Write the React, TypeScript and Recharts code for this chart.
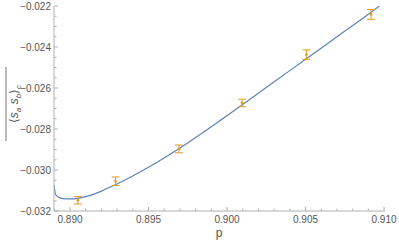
import { ComposedChart, Line, Scatter, ErrorBar, XAxis, YAxis } from "recharts";

// fitted curve
const curveP = [
  0.88898, 0.88902, 0.8891, 0.8893, 0.8896, 0.89, 0.8905, 0.891, 0.892, 0.893,
  0.895, 0.897, 0.899, 0.901, 0.903, 0.905, 0.907, 0.909, 0.9097,
];
const curveV = [
  -0.03073, -0.031, -0.03122, -0.03134, -0.0314, -0.03141, -0.03138, -0.0313,
  -0.03103, -0.03068, -0.02987, -0.02893, -0.02789, -0.0268, -0.0257, -0.0246,
  -0.0235, -0.0224, -0.022,
];

// measured points with error bars
const pointP = [0.8905, 0.8929, 0.89694, 0.90096, 0.90505, 0.90917];
const pointV = [-0.03148, -0.03055, -0.02897, -0.02673, -0.02437, -0.02241];
const pointErr = [0.00018, 0.00021, 0.00019, 0.00018, 0.00023, 0.00024];

const xTicks = [
  0.889, 0.89, 0.891, 0.892, 0.893, 0.894, 0.895, 0.896, 0.897, 0.898, 0.899,
  0.9, 0.901, 0.902, 0.903, 0.904, 0.905, 0.906, 0.907, 0.908, 0.909, 0.91,
];
const xMajor = [0.89, 0.895, 0.9, 0.905, 0.91];
const yTicks = [
  -0.032, -0.0315, -0.031, -0.0305, -0.03, -0.0295, -0.029, -0.0285, -0.028,
  -0.0275, -0.027, -0.0265, -0.026, -0.0255, -0.025, -0.0245, -0.024, -0.0235,
  -0.023, -0.0225, -0.022,
];
const yMajor = [-0.032, -0.03, -0.028, -0.026, -0.024, -0.022];

const curve = curveP.map((p, i) => ({ p, v: curveV[i] }));
const points = pointP.map((p, i) => ({ p, v: pointV[i], err: pointErr[i] }));

const FRAME = "#b0b0b0";
const TEXT = "#555";
const FONT = "Liberation Sans, Arial, sans-serif";
const BLUE = "#5e81b5";
const ORANGE = "#e19c24";

const isMajor = (v: number, list: number[]) => list.some((m) => Math.abs(m - v) < 1e-9);
const fmt = (v: number) => v.toFixed(3).replace("-", "\u2212");

const BottomTick = (props: any) => {
  const { x, y, payload } = props;
  const major = isMajor(payload.value, xMajor);
  return (
    <g>
      <line x1={x} x2={x} y1={y} y2={y - (major ? 4 : 2.5)} stroke={FRAME} />
      {major && (
        <text x={x} y={y + 12} textAnchor="middle" fontSize={10} fill={TEXT} fontFamily={FONT}>
          {payload.value.toFixed(3)}
        </text>
      )}
    </g>
  );
};

const TopTick = (props: any) => {
  const { x, y, payload } = props;
  const major = isMajor(payload.value, xMajor);
  return <line x1={x} x2={x} y1={y} y2={y + (major ? 4 : 2.5)} stroke={FRAME} />;
};

const LeftTick = (props: any) => {
  const { x, y, payload } = props;
  const major = isMajor(payload.value, yMajor);
  return (
    <g>
      <line x1={x} x2={x + (major ? 4 : 2.5)} y1={y} y2={y} stroke={FRAME} />
      {major && (
        <text x={x - 3} y={y + 3.5} textAnchor="end" fontSize={10} fill={TEXT} fontFamily={FONT}>
          {fmt(payload.value)}
        </text>
      )}
    </g>
  );
};

const RightTick = (props: any) => {
  const { x, y, payload } = props;
  const major = isMajor(payload.value, yMajor);
  return <line x1={x} x2={x - (major ? 4 : 2.5)} y1={y} y2={y} stroke={FRAME} />;
};

const XLabel = () => (
  <text x={219} y={237} textAnchor="middle" fontSize={12} fill={TEXT} fontFamily={FONT}>
    p
  </text>
);

const YLabel = () => (
  <g transform="translate(18,104) rotate(-90)">
    <line x1={-37} x2={37} y1={-12} y2={-12} stroke={TEXT} strokeWidth={0.8} />
    <text x={0} y={0} textAnchor="middle" fontSize={12} fill={TEXT} fontFamily={FONT}>
      {"\u27e8"}
      <tspan fontStyle="italic">s</tspan>
      <tspan fontSize={8} dy={3} fontStyle="italic">a</tspan>
      <tspan dy={-3}> </tspan>
      <tspan fontStyle="italic">s</tspan>
      <tspan fontSize={8} dy={3} fontStyle="italic">b</tspan>
      <tspan dy={-3}>{"\u27e9"}</tspan>
      <tspan fontSize={8} dy={3} fontStyle="italic">c</tspan>
    </text>
  </g>
);

const Dot = (props: any) => <circle cx={props.cx} cy={props.cy} r={1.4} fill={ORANGE} />;

export default function App() {
  return (
    <div style={{ position: "absolute", left: 0, top: 0 }}>
      <ComposedChart width={399} height={243} margin={{ top: 6, right: 14, bottom: 0, left: 0 }}>
        <XAxis
          dataKey="p"
          type="number"
          domain={[0.88898, 0.91006]}
          allowDataOverflow
          ticks={xTicks}
          interval={0}
          tick={<BottomTick />}
          tickSize={0}
          tickMargin={0}
          tickLine={false}
          axisLine={{ stroke: FRAME }}
          height={32}
          label={<XLabel />}
        />
        <XAxis
          xAxisId="t"
          orientation="top"
          type="number"
          domain={[0.88898, 0.91006]}
          allowDataOverflow
          ticks={xTicks}
          interval={0}
          tick={<TopTick />}
          tickSize={0}
          tickMargin={0}
          tickLine={false}
          axisLine={{ stroke: FRAME }}
          height={0}
        />
        <YAxis
          type="number"
          domain={[-0.032, -0.022]}
          allowDataOverflow
          ticks={yTicks}
          interval={0}
          tick={<LeftTick />}
          tickSize={0}
          tickMargin={0}
          tickLine={false}
          axisLine={{ stroke: FRAME }}
          width={54}
          label={<YLabel />}
        />
        <YAxis
          yAxisId="r"
          orientation="right"
          type="number"
          domain={[-0.032, -0.022]}
          allowDataOverflow
          ticks={yTicks}
          interval={0}
          tick={<RightTick />}
          tickSize={0}
          tickMargin={0}
          tickLine={false}
          axisLine={{ stroke: FRAME }}
          width={0}
        />
        <Line
          data={curve}
          dataKey="v"
          type="monotone"
          stroke={BLUE}
          strokeWidth={1.2}
          dot={false}
          isAnimationActive={false}
        />
        <Scatter data={points} dataKey="v" shape={<Dot />} isAnimationActive={false}>
          <ErrorBar dataKey="err" direction="y" width={4} stroke={ORANGE} strokeWidth={1} />
        </Scatter>
      </ComposedChart>
    </div>
  );
}
